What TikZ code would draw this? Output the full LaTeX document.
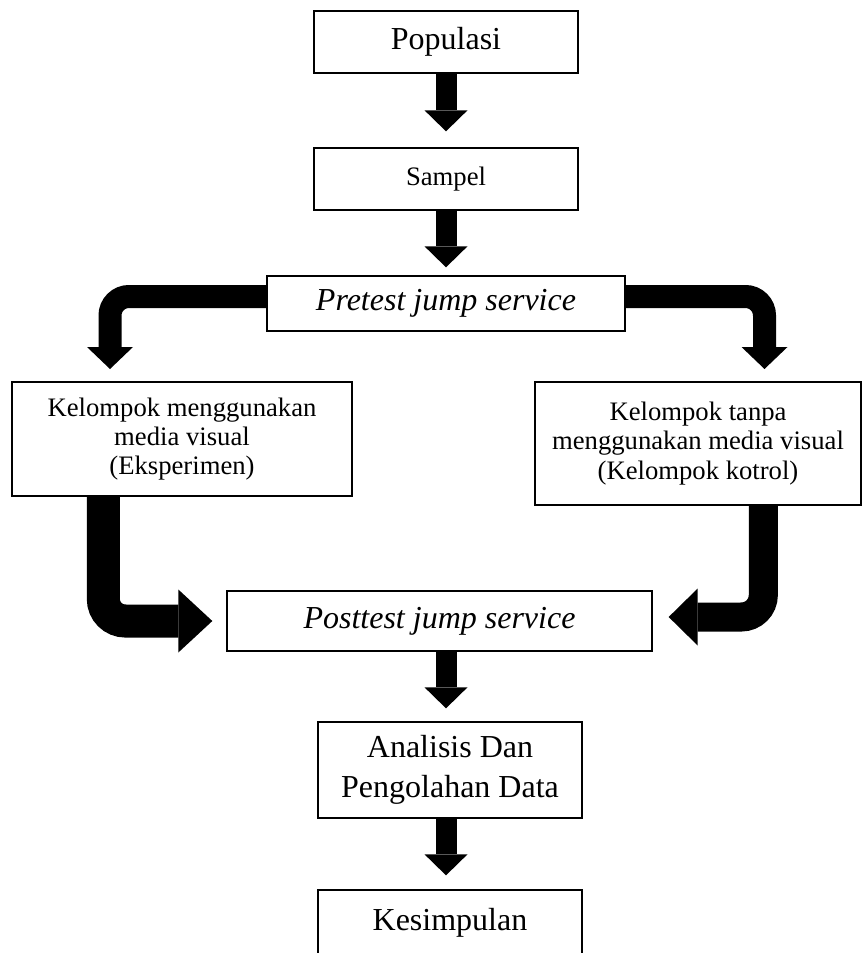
\documentclass[tikz,border=0pt]{standalone}
\usepackage{fontspec}
\setmainfont{Liberation Serif}
\usetikzlibrary{arrows.meta,calc}

\begin{document}
\begin{tikzpicture}[x=0.75pt,y=-0.75pt,
  box/.style={draw,line width=1pt,inner sep=0pt,align=center,font=\fontsize{20}{22}\selectfont},
  big/.style={font=\fontsize{24}{30}\selectfont},
  panah/.style={line width=15.75pt,-{Triangle[width=32.25pt,length=15.75pt,line width=0pt]}},
  belok/.style={line width=17.25pt,rounded corners=14.25pt,-{Triangle[width=34.5pt,length=16.5pt,line width=0pt]}},
  belokkiri/.style={line width=24.75pt,rounded corners=16.5pt,shorten >=10.5pt,-{Triangle[width=47.25pt,length=25.5pt,line width=0pt]}},
  belokkanan/.style={line width=21.75pt,rounded corners=16.5pt,shorten >=12pt,-{Triangle[width=42.75pt,length=21.75pt,line width=0pt]}}]
\useasboundingbox (0,0) rectangle (863,953);
\clip (0,0) rectangle (863,953);
\node[box,big,minimum width=198pt,minimum height=46.5pt] (pop) at (446,42) {Populasi};
\node[box,minimum width=198pt,minimum height=46.5pt] (samp) at (446,179) {Sampel};
\node[box,big,minimum width=268.5pt,minimum height=41.25pt] (pre) at (446,303.5) {\itshape Pretest jump service};
\node[box,minimum width=255pt,minimum height=85.5pt] (lbox) at (182,439) {Kelompok menggunakan\\media visual\\(Eksperimen)};
\node[box,minimum width=244.5pt,minimum height=92.25pt] (rbox) at (698,443.5) {Kelompok tanpa\\menggunakan media visual\\(Kelompok kotrol)};
\node[box,big,minimum width=318.75pt,minimum height=45pt] (post) at (439.5,621) {\itshape Posttest jump service};
\node[box,big,minimum width=198pt,minimum height=72pt] (ana) at (450,770) {Analisis Dan\\Pengolahan Data};
\node[box,big,minimum width=198pt,minimum height=49.5pt] (kes) at (450,923) {Kesimpulan};
\coordinate (lin) at (110,369);
\coordinate (rin) at (764.5,369);
\draw[panah,shorten >=12pt] (pop) -- (samp);
\draw[panah,shorten >=6pt] (samp) -- (pre);
\draw[belok] ($(pre.west)+(0,-7)$) -| (lin);
\draw[belok] ($(pre.east)+(0,-7)$) -| (rin);
\draw[belokkiri] ($(lbox.south west)+(92,0)$) |- (post.west);
\draw[belokkanan] ($(rbox.south west)+(229,0)$) |- ($(post.east)+(0,-4)$);
\draw[panah,shorten >=9.75pt] (post.south -| pop) -- (ana.north -| pop);
\draw[panah,shorten >=10.5pt] (ana.south -| pop) -- (kes.north -| pop);
\end{tikzpicture}
\end{document}
